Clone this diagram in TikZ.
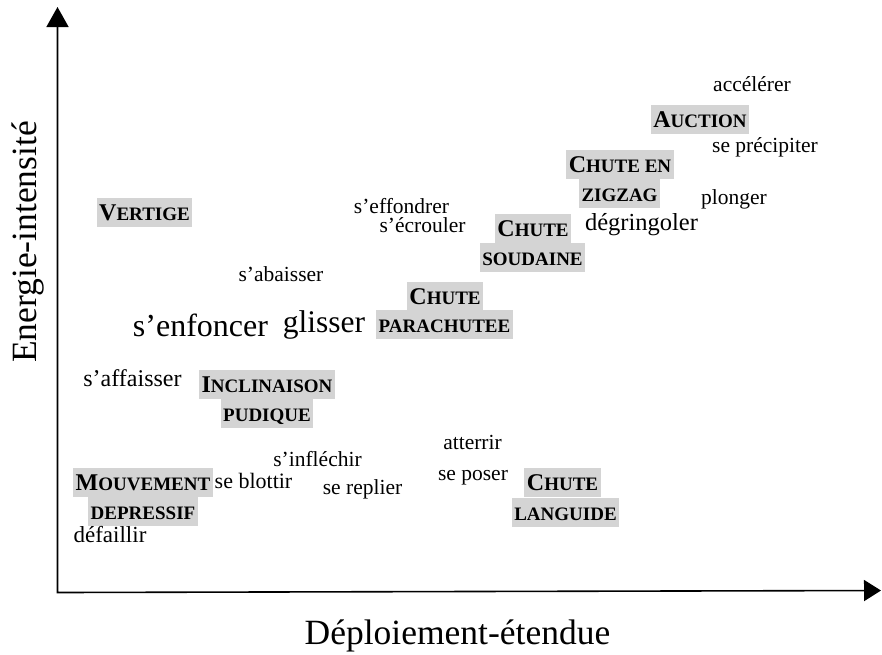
\documentclass[tikz,border=0pt]{standalone}
\usepackage{fontspec}
\setmainfont{Liberation Serif}
\usetikzlibrary{arrows.meta}
\definecolor{boxgray}{RGB}{212,212,212}
\newcommand{\capA}[1]{{\fontsize{24}{24}\selectfont #1}}
\newcommand{\capB}[1]{{\fontsize{19}{19}\selectfont #1}}
\begin{document}
\begin{tikzpicture}[x=1pt,y=-1pt,
  lab/.style={fill=boxgray, font=\bfseries, inner xsep=2.5pt, inner ysep=1.5pt, text height=21pt, text depth=5pt},
  word/.style={inner sep=0pt, anchor=base, font=\fontsize{21.5}{21.5}\selectfont},
  axlabel/.style={inner sep=0pt, anchor=base, font=\fontsize{35.5}{35.5}\selectfont},
  axisline/.style={line width=1.6pt, {Triangle[length=20pt,width=22pt]}-{Triangle[length=17pt,width=21pt]}}]
\useasboundingbox (0,0) rectangle (882,654);
% axes
\coordinate (O) at (57.5,592.5);
\coordinate (ytip) at (57.5,7);
\coordinate (xtip) at (881,590.5);
\draw[axisline] (ytip) -- (O) -- (xtip);
\node[axlabel] (xlab) at (457.5,644) {Déploiement-étendue};
\node[axlabel, rotate=90] (ylab) at (36.4,242) {Energie-intensité};
% category labels
\node[lab] (auction) at (700,119) {\capA{A}\capB{UCTION}};
\node[lab] (zig1) at (620,164) {\capA{C}\capB{HUTE EN}};
\node[lab] (zig2) at (619.5,193) {\capB{ZIGZAG}};
\node[lab] (vertige) at (144.5,212) {\capA{V}\capB{ERTIGE}};
\node[lab] (soud1) at (533,228) {\capA{C}\capB{HUTE}};
\node[lab] (soud2) at (532.5,257) {\capB{SOUDAINE}};
\node[lab] (para1) at (445,296) {\capA{C}\capB{HUTE}};
\node[lab] (para2) at (444.5,324.5) {\capB{PARACHUTEE}};
\node[lab] (incl1) at (267,384.5) {\capA{I}\capB{NCLINAISON}};
\node[lab] (incl2) at (267,413.5) {\capB{PUDIQUE}};
\node[lab] (mouv1) at (143,482.5) {\capA{M}\capB{OUVEMENT}};
\node[lab] (mouv2) at (143,511.5) {\capB{DEPRESSIF}};
\node[lab] (lang1) at (562.5,482.5) {\capA{C}\capB{HUTE}};
\node[lab] (lang2) at (565.5,512) {\capB{LANGUIDE}};
% verbs
\node[word] (accelerer) at (752,91) {accélérer};
\node[word] (precipiter) at (765,152) {se précipiter};
\node[word] (plonger) at (734,204) {plonger};
\node[word, font=\fontsize{24.5}{24.5}\selectfont] (degringoler) at (641.5,230) {dégringoler};
\node[word] (abaisser) at (281,281.7) {s’abaisser};
\node[word, font=\fontsize{32}{32}\selectfont] (enfoncer) at (200.5,336.7) {s’enfoncer};
\node[word, font=\fontsize{31.5}{31.5}\selectfont] (glisser) at (324,332) {glisser};
\node[word] (effondrer) at (401.5,213.3) {s’effondrer};
\node[word] (ecrouler) at (422.5,232.3) {s’écrouler};
\node[word, font=\fontsize{24}{24}\selectfont] (affaisser) at (132.5,386) {s’affaisser};
\node[word, font=\fontsize{22}{22}\selectfont] (blottir) at (253.5,488.3) {se blottir};
\node[word, font=\fontsize{23}{23}\selectfont] (defaillir) at (110,542.7) {défaillir};
\node[word] (inflechir) at (317.5,466.7) {s’infléchir};
\node[word] (replier) at (362.5,494) {se replier};
\node[word] (atterrir) at (472.5,449.3) {atterrir};
\node[word] (poser) at (473,480) {se poser};
\end{tikzpicture}
\end{document}
